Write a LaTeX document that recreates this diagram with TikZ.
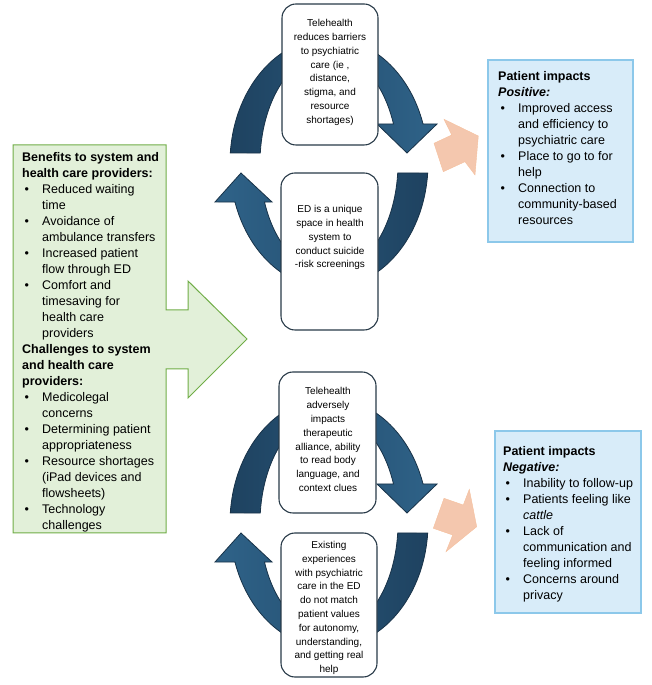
\documentclass[tikz,border=0pt]{standalone}
\usepackage{fontspec}
\setmainfont{Liberation Sans}
\usetikzlibrary{calc}
\definecolor{ringlight}{RGB}{47,99,137}
\definecolor{ringdark}{RGB}{30,66,96}
\definecolor{ringedge}{RGB}{24,50,72}
\definecolor{boxedge}{RGB}{40,58,72}
\definecolor{peach}{RGB}{244,199,174}
\definecolor{gfill}{RGB}{226,240,217}
\definecolor{gedge}{RGB}{112,173,71}
\definecolor{bfill}{RGB}{216,236,249}
\definecolor{bedge}{RGB}{140,200,234}
\newcommand{\myitem}[1]{\hspace*{2.5pt}\makebox[17.5pt][l]{\textbullet}#1}
\newcommand{\mycont}[1]{\hspace*{20pt}#1}
\newcommand{\cycTop}[1]{%
  \shadedraw[ring, left color=ringdark, right color=ringlight]
  ($(#1)+(175.4:99 and 125)$) arc[start angle=175.4, end angle=18.2, x radius=99, y radius=125]
  -- ($(#1)+(108,39)$) -- ($(#1)+(78,10)$) -- ($(#1)+(48,39)$)
  -- ($(#1)+(20.8:69 and 110)$) arc[start angle=20.8, end angle=174.8, x radius=69, y radius=110] -- cycle;}
\newcommand{\cycBot}[1]{%
  \shadedraw[ring, left color=ringlight, right color=ringdark]
  ($(#1)+(-4.6:99 and 125)$) arc[start angle=-4.6, end angle=-161.8, x radius=99, y radius=125]
  -- ($(#1)+(-114,-39)$) -- ($(#1)+(-88,-10)$) -- ($(#1)+(-57,-39)$)
  -- ($(#1)+(-159.2:69 and 110)$) arc[start angle=-159.2, end angle=-5.2, x radius=69, y radius=110] -- cycle;}
\begin{document}
\begin{tikzpicture}[x=1pt,y=1pt,
  ring/.style={draw=ringedge, line width=0.8pt},
  cbox/.style={draw=boxedge, fill=white, line width=1.1pt, rounded corners=14pt},
  btext/.style={align=center, font=\fontsize{10}{13.8}\selectfont, inner sep=0pt},
  ltext/.style={align=left, anchor=north west, inner sep=0pt, font=\fontsize{12.5}{16}\selectfont},
  bluebox/.style={draw=bedge, fill=bfill, line width=1.2pt},
  peacharrow/.style={fill=peach, draw=peach!90!orange, line width=0.4pt}
]
\useasboundingbox (0,0) rectangle (652,685);
\coordinate (c1) at (329,522);
\coordinate (c2) at (329,162);

% circular arrows
\cycTop{c1}
\cycBot{c1}
\cycTop{c2}
\cycBot{c2}

% boxes of the cycles
\node[cbox, minimum width=96pt, minimum height=141pt] (b1) at (330,610.5) {};
\node[btext] (t1) at (330,612.6) {Telehealth\\reduces barriers\\to psychiatric\\care (ie ,\\distance,\\stigma, and\\resource\\shortages)};
\node[cbox, minimum width=97pt, minimum height=157pt] (b2) at (329.5,433.5) {};
\node[btext] (t2) at (330,447.2) {ED is a unique\\space in health\\system to\\conduct suicide\\-risk screenings};
\node[cbox, minimum width=97pt, minimum height=141pt] (b3) at (327.5,242.5) {};
\node[btext] (t3) at (328,245.3) {Telehealth\\adversely\\impacts\\therapeutic\\alliance, ability\\to read body\\language, and\\context clues};
\node[cbox, minimum width=96pt, minimum height=144pt] (b4) at (329,80) {};
\node[btext] (t4) at (329,77) {Existing\\experiences\\with psychiatric\\care in the ED\\do not match\\patient values\\for autonomy,\\understanding,\\and getting real\\help};

% green box with arrow
\draw[fill=gfill, draw=gedge, line width=1pt]
  (13,540) -- (166,540) -- (166,375) -- (188,375) -- (188,404) -- (247,346)
  -- (188,287) -- (188,316) -- (166,316) -- (166,152) -- (13,152) -- cycle;
\node[ltext] (gt) at (22,533) {\textbf{Benefits to system and}\\
\textbf{health care providers:}\\
\myitem{Reduced waiting}\\
\mycont{time}\\
\myitem{Avoidance of}\\
\mycont{ambulance transfers}\\
\myitem{Increased patient}\\
\mycont{flow through ED}\\
\myitem{Comfort and}\\
\mycont{timesaving for}\\
\mycont{health care}\\
\mycont{providers}\\
\textbf{Challenges to system}\\
\textbf{and health care}\\
\textbf{providers:}\\
\myitem{Medicolegal}\\
\mycont{concerns}\\
\myitem{Determining patient}\\
\mycont{appropriateness}\\
\myitem{Resource shortages}\\
\mycont{(iPad devices and}\\
\mycont{flowsheets)}\\
\myitem{Technology}\\
\mycont{challenges}};

% peach arrows
\path[peacharrow] (444,565.7) -- (478.3,549) -- (475,510) -- (465,523.3)
  -- (443.3,513.3) -- (434,541.7) -- (451.7,550) -- cycle;
\path[peacharrow] (469.3,195.7) -- (476.7,158.3) -- (446,133.3) -- (452.7,150)
  -- (433.3,156.7) -- (444,186.7) -- (463.3,180) -- cycle;

% patient impact boxes
\node[bluebox, minimum width=145pt, minimum height=182pt] (p1) at (560.5,534) {};
\node[ltext] (pt1) at (498,613.3) {\textbf{Patient impacts}\\
\textbf{\textit{Positive:}}\\
\myitem{Improved access}\\
\mycont{and efficiency to}\\
\mycont{psychiatric care}\\
\myitem{Place to go to for}\\
\mycont{help}\\
\myitem{Connection to}\\
\mycont{community-based}\\
\mycont{resources}};
\node[bluebox, minimum width=146pt, minimum height=182pt] (p2) at (568,163) {};
\node[ltext] (pt2) at (503,238.3) {\textbf{Patient impacts}\\
\textbf{\textit{Negative:}}\\
\myitem{Inability to follow-up}\\
\myitem{Patients feeling like}\\
\mycont{\textit{cattle}}\\
\myitem{Lack of}\\
\mycont{communication and}\\
\mycont{feeling informed}\\
\myitem{Concerns around}\\
\mycont{privacy}};
\end{tikzpicture}
\end{document}
